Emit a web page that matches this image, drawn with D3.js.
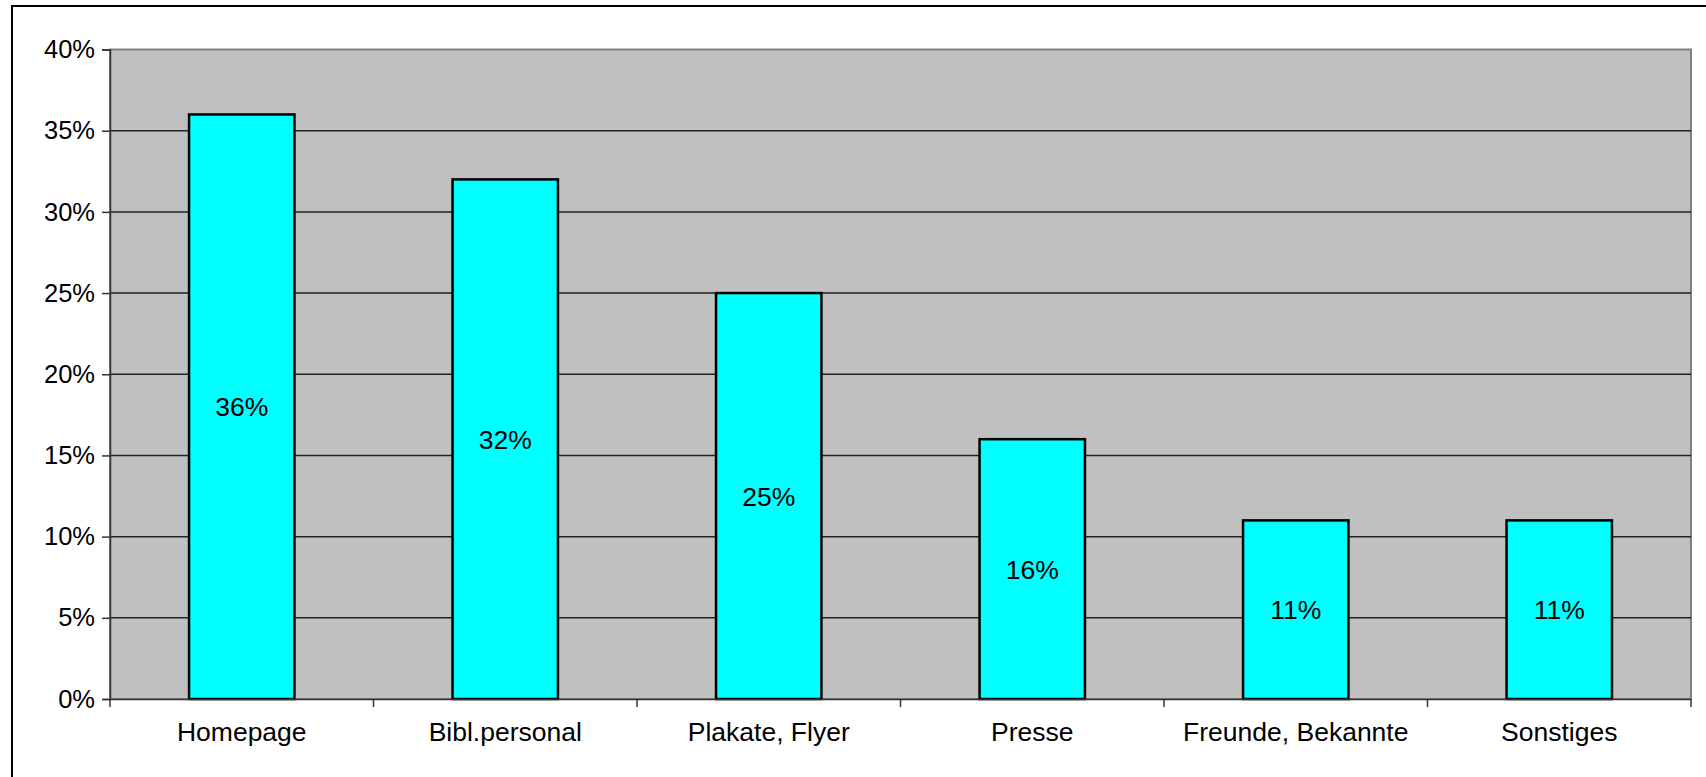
<!DOCTYPE html>
<html>
<head>
<meta charset="utf-8">
<script src="https://cdn.jsdelivr.net/npm/d3@7"></script>
<style>
  html, body { margin: 0; padding: 0; background: #fff; overflow: hidden; }
  text { font-family: "Liberation Sans", Arial, sans-serif; fill: #000; }
</style>
</head>
<body>
<div id="chart"></div>
<script>
// Data
const categories = ["Homepage", "Bibl.personal", "Plakate, Flyer", "Presse", "Freunde, Bekannte", "Sonstiges"];
const values = [36, 32, 25, 16, 11, 11];
const yTicks = [0, 5, 10, 15, 20, 25, 30, 35, 40];

const width = 1706, height = 777;
const plot = { left: 110, right: 1691, top: 49.5, bottom: 699 };

const svg = d3.select("#chart")
    .append("svg")
    .attr("width", width)
    .attr("height", height);

// Outer chart frame
svg.append("rect")
    .attr("x", 12)
    .attr("y", 6)
    .attr("width", width + 20)
    .attr("height", height + 20)
    .attr("fill", "#fff")
    .attr("stroke", "#000")
    .attr("stroke-width", 2);

// Scales
const xScale = d3.scaleBand()
    .domain(categories)
    .range([plot.left, plot.right])
    .paddingInner(0)
    .paddingOuter(0);

const yScale = d3.scaleLinear()
    .domain([0, 40])
    .range([plot.bottom, plot.top]);

// Plot area background
svg.append("rect")
    .attr("x", plot.left)
    .attr("y", plot.top)
    .attr("width", plot.right - plot.left)
    .attr("height", plot.bottom - plot.top)
    .attr("fill", "#c0c0c0")
    .attr("stroke", "#808080")
    .attr("stroke-width", 2);

// Gridlines
svg.append("g")
    .selectAll("line")
    .data(yTicks.filter(d => d > 0 && d < 40))
    .enter()
    .append("line")
    .attr("x1", plot.left)
    .attr("x2", plot.right)
    .attr("y1", d => yScale(d))
    .attr("y2", d => yScale(d))
    .attr("stroke", "#222")
    .attr("stroke-width", 1.5);

// Bars
const barW = xScale.bandwidth() / 2.5;
svg.append("g")
    .selectAll("rect")
    .data(values)
    .enter()
    .append("rect")
    .attr("x", (d, i) => xScale(categories[i]) + (xScale.bandwidth() - barW) / 2)
    .attr("y", d => yScale(d))
    .attr("width", barW)
    .attr("height", d => yScale(0) - yScale(d))
    .attr("fill", "#00ffff")
    .attr("stroke", "#000")
    .attr("stroke-width", 2.5);

// Y axis
const yAxis = svg.append("g")
    .attr("transform", `translate(${plot.left},0)`)
    .call(d3.axisLeft(yScale).tickValues(yTicks).tickSize(8).tickPadding(7).tickFormat(d => d + "%"));
yAxis.select(".domain").attr("stroke", "#333").attr("stroke-width", 1.5);
yAxis.selectAll(".tick line").attr("stroke", "#333").attr("stroke-width", 1.5);
yAxis.selectAll("text")
    .attr("font-size", 25.5)
    .attr("font-family", "Liberation Sans, Arial, sans-serif");

// X axis
const xAxis = svg.append("g")
    .attr("transform", `translate(0,${plot.bottom})`)
    .call(d3.axisBottom(xScale).tickSize(0).tickPadding(23));
xAxis.select(".domain").attr("stroke", "#333").attr("stroke-width", 1.5);
xAxis.selectAll("text")
    .attr("font-size", 26.5)
    .attr("font-family", "Liberation Sans, Arial, sans-serif");

// Category boundary ticks
svg.append("g")
    .selectAll("line")
    .data(categories.concat(["__end"]))
    .enter()
    .append("line")
    .attr("x1", (d, i) => i < categories.length ? xScale(d) : plot.right)
    .attr("x2", (d, i) => i < categories.length ? xScale(d) : plot.right)
    .attr("y1", plot.bottom)
    .attr("y2", plot.bottom + 8)
    .attr("stroke", "#333")
    .attr("stroke-width", 1.5);

// Value labels
svg.append("g")
    .selectAll("text")
    .data(values)
    .enter()
    .append("text")
    .attr("x", (d, i) => xScale(categories[i]) + xScale.bandwidth() / 2)
    .attr("y", d => (yScale(d) + yScale(0)) / 2)
    .attr("dy", "0.36em")
    .attr("text-anchor", "middle")
    .attr("font-size", 26.5)
    .text(d => d + "%");
</script>
</body>
</html>
